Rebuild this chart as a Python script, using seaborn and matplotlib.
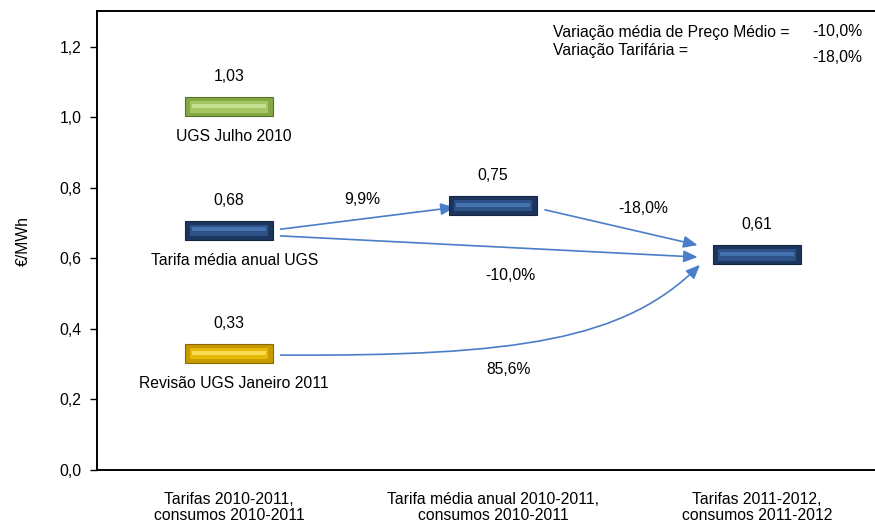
import matplotlib
matplotlib.use("Agg")
import matplotlib.pyplot as plt
import seaborn as sns
from matplotlib.patches import FancyArrowPatch
from matplotlib.path import Path
from matplotlib.ticker import FuncFormatter

# ---- data ----
categories = ["Tarifas 2010-2011,\nconsumos 2010-2011",
              "Tarifa média anual 2010-2011,\nconsumos 2010-2011",
              "Tarifas 2011-2012,\nconsumos 2011-2012"]
bar_cat = [0, 0, 0, 1, 2]
bar_values = [1.03, 0.68, 0.33, 0.75, 0.61]
bar_names = ["UGS Julho 2010", "Tarifa média anual UGS", "Revisão UGS Janeiro 2011", "", ""]
bar_kind = ["green", "blue", "gold", "blue", "blue"]
arrow_labels = ["9,9%", "-10,0%", "-18,0%", "85,6%"]
summary_labels = ["Variação média de Preço Médio =", "Variação Tarifária ="]
summary_values = ["-10,0%", "-18,0%"]
yticks = [0.0, 0.2, 0.4, 0.6, 0.8, 1.0, 1.2]

sns.set_theme(style="white", rc={"text.color": "black", "axes.labelcolor": "black",
                                 "xtick.color": "black", "ytick.color": "black"})
plt.rcParams["font.family"] = ["Liberation Sans", "DejaVu Sans"]
FS = 11.3

fig = plt.figure(figsize=(8.75, 5.27), dpi=100)
ax = fig.add_axes([97 / 875, 1 - 470 / 527, (889 - 97) / 875, (470 - 11) / 527])
ax.set_xlim(-0.5, 2.5)
ax.set_ylim(0, 1.302)

palettes = {
    "blue": ("#1D365E", "#2D5288", "#4573AE", "#132540"),
    "green": ("#86A844", "#A6C663", "#C6DE92", "#56712A"),
    "gold": ("#C99A00", "#E8BA08", "#FADB55", "#8A6A00"),
}
w = 0.33
h = 0.054
for x, v, k in zip(bar_cat, bar_values, bar_kind):
    base, mid, hi, dark = palettes[k]
    ax.bar(x, h, bottom=v - h / 2, width=w, color=base, edgecolor=dark, linewidth=0.8, zorder=3)
    ax.bar(x, h * 0.6, bottom=v - h * 0.3, width=w * 0.9, color=mid, linewidth=0, zorder=4)
    ax.bar(x, h * 0.22, bottom=v - h * 0.06, width=w * 0.86, color=hi, linewidth=0, zorder=5)
    ax.text(x, v + 0.085, f"{v:.2f}".replace(".", ","), ha="center", va="center", fontsize=FS, zorder=6)

for x, v, n in zip(bar_cat, bar_values, bar_names):
    if n:
        ax.text(x + 0.02, v - 0.085, n, ha="center", va="center", fontsize=FS, zorder=6)

acol = "#4A7EC8"
akw = dict(arrowstyle="-|>,head_length=0.7,head_width=0.3", color=acol, lw=1.2,
           shrinkA=0, shrinkB=0, zorder=2, mutation_scale=12)
x0r = bar_cat[1] + w / 2 + 0.03
# 0.68 -> 0.75
ax.add_patch(FancyArrowPatch((x0r, 0.683), (0.855, 0.745), **akw))
# 0.68 -> 0.61
ax.add_patch(FancyArrowPatch((x0r, 0.664), (1.775, 0.604), **akw))
# 0.75 -> 0.61
ax.add_patch(FancyArrowPatch((1.197, 0.738), (1.775, 0.638), **akw))
# 0.33 -> 0.61 (curved)
path = Path([(x0r, 0.326), (1.1, 0.322), (1.5, 0.37), (1.784, 0.582)],
            [Path.MOVETO, Path.CURVE4, Path.CURVE4, Path.CURVE4])
ax.add_patch(FancyArrowPatch(path=path, **akw))

label_pos = [(0.504, 0.766), (1.064, 0.553), (1.568, 0.743), (1.06, 0.284)]
for (lx, ly), t in zip(label_pos, arrow_labels):
    ax.text(lx, ly, t, ha="center", va="center", fontsize=FS)

fig.text(553 / 875, 1 - 33 / 527, summary_labels[0], ha="left", va="center", fontsize=FS)
fig.text(553 / 875, 1 - 51 / 527, summary_labels[1], ha="left", va="center", fontsize=FS)
fig.text(862 / 875, 1 - 31 / 527, summary_values[0], ha="right", va="center", fontsize=FS)
fig.text(862 / 875, 1 - 58 / 527, summary_values[1], ha="right", va="center", fontsize=FS)

ax.set_yticks(yticks)
ax.yaxis.set_major_formatter(FuncFormatter(lambda v, p: f"{v:.1f}".replace(".", ",")))
ax.set_xticks(range(len(categories)))
ax.set_xticklabels(categories, fontsize=FS, linespacing=1.1)
ax.tick_params(axis="x", length=0, pad=16)
ax.tick_params(axis="y", direction="out", length=5, width=1, color="black", labelsize=FS, pad=6, left=True)
ax.set_ylabel("€/MWh", fontsize=FS, labelpad=21)
for s in ax.spines.values():
    s.set_color("black")
    s.set_linewidth(1.4)
ax.grid(False)

fig.savefig("out.png", dpi=100)
